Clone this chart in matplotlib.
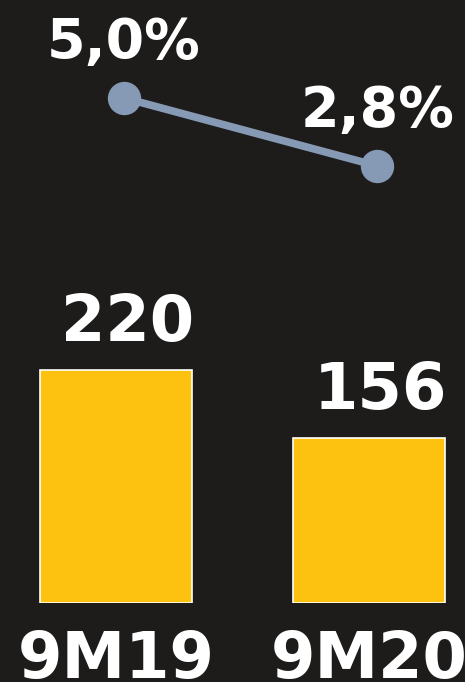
import matplotlib.pyplot as plt

categories = ["9M19", "9M20"]
bar_values = [220, 156]
bar_labels = ["220", "156"]
pct_values = [5.0, 2.8]
pct_labels = ["5,0%", "2,8%"]

bg = "#1d1c1b"
yellow = "#fcc20f"
steel = "#869ab5"
W, H = 465, 682

fig = plt.figure(figsize=(W / 100, H / 100), dpi=100, facecolor=bg)
plt.rcParams['font.family'] = ['DejaVu Sans']

# bar axes: spans from baseline (79px from bottom) to the top
rect = [0, 79 / H, 1, 1 - 79 / H]
ax = fig.add_axes(rect)
ax.set_facecolor("none")
x = list(range(len(categories)))
ax.bar(x, bar_values, width=0.6, color=yellow, edgecolor="white", linewidth=1.2)
ax.set_xlim(-0.458, 1.378)
ax.set_ylim(0, 569)
ax.axis("off")

for xi, v, lab in zip(x, bar_values, bar_labels):
    ax.annotate(lab, (xi, v), xytext=(8, 21), textcoords="offset points",
                ha="center", va="baseline", color="white", fontsize=46,
                fontweight="bold")

# category names sit low, partly cut by the bottom edge as in the original
for xi, lab in zip(x, categories):
    ax.annotate(lab, (xi, 0), xytext=(0, -54), textcoords="offset points",
                ha="center", va="baseline", color="white", fontsize=46,
                fontweight="bold", annotation_clip=False)

# margin line on its own axes
ax2 = fig.add_axes(rect)
ax2.set_facecolor("none")
ax2.plot(x, pct_values, color=steel, linewidth=5.5, marker="o", markersize=23,
         solid_capstyle="round")
ax2.set_xlim(-0.49, 1.346)
ax2.set_ylim(-11.34, 8.17)
ax2.axis("off")

for xi, v, lab in zip(x, pct_values, pct_labels):
    ax2.annotate(lab, (xi, v), xytext=(0, 29), textcoords="offset points",
                 ha="center", va="baseline", color="white", fontsize=40,
                 fontweight="bold")

fig.savefig("out.png", dpi=100, facecolor=bg)
